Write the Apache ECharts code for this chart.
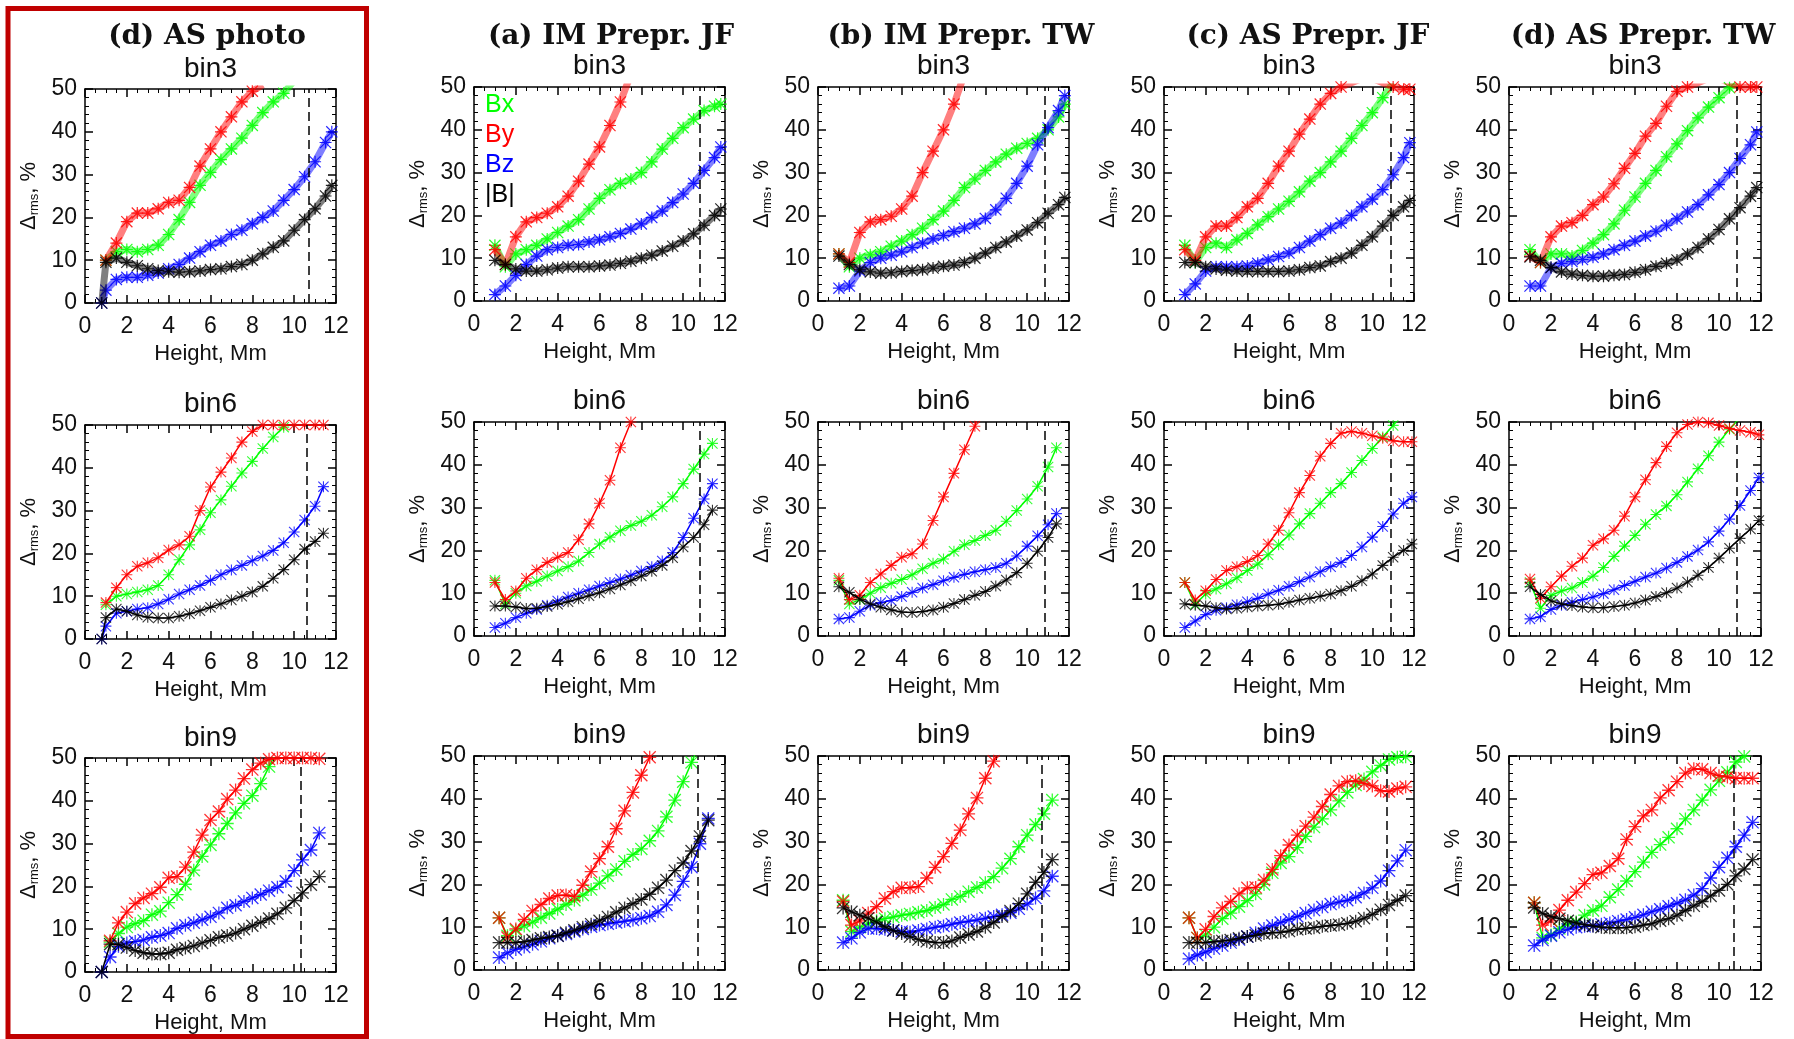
<!DOCTYPE html>
<html><head><meta charset="utf-8">
<script src="https://cdn.jsdelivr.net/npm/echarts/dist/echarts.min.js"></script>
<style>html,body{margin:0;padding:0;background:#fff}#c{width:1794px;height:1039px}</style>
</head><body><div id="c"></div><script>
// ---------- text ----------
const colTitles = ['(d) AS photo', '(a) IM Prepr. JF', '(b) IM Prepr. TW', '(c) AS Prepr. JF', '(d) AS Prepr. TW'];
const binTitles = ['bin3', 'bin6', 'bin9'];
const seriesNames = ['Bx', 'By', 'Bz', '|B|'];
const seriesColors = ['#00ff00', '#ff0000', '#0000ff', '#000000'];
const xAxisTitle = 'Height, Mm';
const yAxisTitle = 'Δ{s|rms}, %';

// ---------- heights (Mm) ----------
const H3 = [1,1.5,2,2.5,3,3.5,4,4.5,5,5.5,6,6.5,7,7.5,8,8.5,9,9.5,10,10.5,11,11.5,11.8];
const H3p = [0.8,1,1.5,2,2.5,3,3.5,4,4.5,5,5.5,6,6.5,7,7.5,8,8.5,9,9.5,10,10.5,11,11.5,11.8];
const H6a = [1,1.5,2,2.5,3,3.5,4,4.5,5,5.5,6,6.5,7,7.5,8,8.5,9,9.5,10,10.5,11,11.4];
const H6ap = [0.8,1,1.5,2,2.5,3,3.5,4,4.5,5,5.5,6,6.5,7,7.5,8,8.5,9,9.5,10,10.5,11,11.4];
const H6b = [1,1.5,2,2.5,3,3.5,4,4.5,5,5.5,6,6.5,7,7.5,8,8.5,9,9.5,10,10.5,11,11.5,11.9];
const H9a = [1.2,1.6,2,2.4,2.8,3.2,3.6,4,4.4,4.8,5.2,5.6,6,6.4,6.8,7.2,7.6,8,8.4,8.8,9.2,9.6,10,10.4,10.8,11.2];
const H9ap = [0.8,1.2,1.6,2,2.4,2.8,3.2,3.6,4,4.4,4.8,5.2,5.6,6,6.4,6.8,7.2,7.6,8,8.4,8.8,9.2,9.6,10,10.4,10.8,11.2];
const H9b = [1.2,1.6,2,2.4,2.8,3.2,3.6,4,4.4,4.8,5.2,5.6,6,6.4,6.8,7.2,7.6,8,8.4,8.8,9.2,9.6,10,10.4,10.8,11.2,11.6];

// ---------- dashed line heights ----------
const dashBin3 = [10.7, 10.8, 10.83, 10.86, 10.83];
const dashBin6 = [10.58, 10.8, 10.83, 10.86, 10.83];
const dashBin9 = [10.3, 10.68, 10.7, 10.7, 10.7];

// ---------- bin3 ----------
const photo3_Bx = [null,10,12,12.5,12,12.5,13.5,16,19.5,23.5,27.5,30.5,33.5,36,38.5,41.5,44.5,47,49,52,null,null,null,null];
const photo3_By = [null,10,14,19,21,21,22,23.5,24,27,32,36,40,43.5,47,49.5,51,null,null,null,null,null,null,null];
const photo3_Bz = [0,3,5.5,6,6,6.5,7,8,9,10.5,12,13.5,14.5,16,17,18.5,20,21.5,24,26.5,29.5,33,37.5,40];
const photo3_B  = [0,9.5,10.5,9.5,8.7,8,7.6,7.3,7.2,7.3,7.5,7.8,8,8.5,9,10,11.5,13,14.5,17,19.5,22,25,27.5];

const imJF3_Bx = [13,8,11,12,13,14.5,16,17.5,19,21.5,24,26,27.5,28.5,30,32.5,35.5,38,40.5,42.5,44.5,45.5,46];
const imJF3_By = [12,8.5,15,18.5,19.5,20.5,22,24.5,28,32,36,41,46.5,53,null,null,null,null,null,null,null,null,null];
const imJF3_Bz = [1.5,3.5,6,8.5,10.5,12,12.5,13,13.2,13.8,14.3,15,15.8,16.8,18,19.5,21,23,25,27.5,30.5,33.5,36];
const imJF3_B  = [9.5,8.5,7.5,7,7,7.3,7.7,8,8,8,8.2,8.4,8.8,9.3,10,10.7,11.7,12.8,14,15.7,17.7,20,21.5];

const imTW3_Bx = [11,8,10,10.8,11.5,12.8,14,15.5,17,19,21,23.5,26.5,28.5,30.5,32.5,34.3,35.7,36.8,38,40,43,46];
const imTW3_By = [11,9,16,18.5,19,19.8,21.5,24.5,30,35,40,46,53,null,null,null,null,null,null,null,null,null,null];
const imTW3_Bz = [3,3.5,7,9,10,10.7,11.5,12.5,13.5,14.5,15.3,16.2,17,18,19.3,21.3,24,27.5,31.5,36.5,40.5,44.5,48];
const imTW3_B  = [10.5,8.5,7.3,6.8,6.5,6.6,6.9,7.1,7.3,7.7,8.1,8.4,9,10,11.2,12.5,13.8,15.2,16.6,18.3,20.5,22.5,24.2];

const asJF3_Bx = [13,9,12.5,13.5,12.5,14.3,15.8,17.8,19.7,21.5,23.3,25.5,28,30,32.5,35,38,41,44,47.5,51,null,null];
const asJF3_By = [12,9.5,15,17.5,17.5,19.5,22,24,27.5,31.5,35,39,42.5,46,48.5,50,51,52,52,51,50,49.5,49.5];
const asJF3_Bz = [1.5,4,7,8,8,8,8.2,8.8,9.6,10.4,11.2,12.5,14,15.5,17,18.2,20,22,23.8,26,29.5,33.5,37];
const asJF3_B  = [9,9,8,7.5,7.2,7,6.9,6.9,6.9,6.9,7,7.3,7.8,8.2,9.2,10,11.2,13,15,17.5,20,22,23.5];

const asTW3_Bx = [12,9,11,11,10.5,11.8,13.5,15.5,18,21.2,24.3,27.5,30.5,33.7,36.7,39.8,42.8,45.3,47.5,49.8,52,null,null];
const asTW3_By = [10.5,9,15,17.5,18.3,20,22.5,24.3,27.4,31,34.5,38.5,41.5,45.5,49,50,51,52,52,51,50,50,50];
const asTW3_Bz = [3.5,3.5,7.8,8.8,9.2,9.7,10.2,11,12,13,14,15.2,16.3,17.7,19.2,20.8,22.5,24.8,27.2,30,33.3,36.5,39.5];
const asTW3_B  = [10.3,9.5,7.8,6.8,6.3,6,5.8,5.8,6,6.2,6.7,7.3,8.1,8.8,9.6,11,12.5,14.5,16.7,19.2,21.8,24.5,26.5];

// ---------- bin6 ----------
const photo6_Bx = [null,8,10,10.5,11,11.5,12.5,15,18.5,22,25.5,29.5,32.5,35.7,38.8,41.5,44.5,47.2,49.5,53,null,null,null];
const photo6_By = [null,8.5,12,15,17,17.8,19,20.8,22,24,30,35.5,39,42.3,46,48.5,50,50,50,50,50,50,50];
const photo6_Bz = [0,3,6,6.5,7,7.3,8.2,9.3,10.5,11.5,12.5,13.7,15,16.1,17.2,18.3,19.4,20.7,22.5,25,27.8,31,35.6];
const photo6_B  = [0,5,7,6.5,5.6,5.1,4.9,4.9,5.3,5.9,6.6,7.4,8.2,9.1,10,11,12.3,14.2,16.2,18.5,21,22.8,24.7];

const imJF6_Bx = [13,7.5,10,11.7,12.8,14,15.2,16.2,17.5,19.5,21.5,23.1,24.6,25.8,26.8,28.2,30.2,32.5,35.6,39,42.5,45];
const imJF6_By = [12.5,8.5,10.5,13.5,15.5,17.2,18.4,19.5,22.5,26.2,31,36.4,44,50,57,null,null,null,null,null,null,null];
const imJF6_Bz = [2,3,4.3,5.3,6.2,7.2,8.2,9.1,10,10.8,11.7,12.5,13.3,14.2,15.2,16.2,17.5,19.5,23,27.5,32,35.6];
const imJF6_B  = [7,7,6.8,6.4,6.5,6.9,7.4,8,8.7,9.4,10.1,11,11.9,12.9,14,15.1,16.5,18.3,20.8,23,26,29.4];

const imTW6_Bx = [13,7.5,8.5,10,11.3,12.3,13.2,14.3,15.7,17,18,19.8,21.3,22.3,23.5,24.7,26.8,29.3,32,35,39.5,44];
const imTW6_By = [13.5,8.5,9.5,12.5,14.5,16.5,18.4,19.2,21.5,27,32.5,38,43.5,49,56,null,null,null,null,null,null,null];
const imTW6_Bz = [4,4.3,5.8,7.2,7.8,8.3,9.2,10.2,11.2,12,12.9,13.7,14.4,15,15.5,16,17,18.7,21,23.4,26,28.6];
const imTW6_B  = [11.5,10.2,8.6,7.5,6.7,6.1,5.6,5.5,5.7,6.1,6.7,7.6,8.5,9.5,10.4,11.7,13.1,14.8,17,19.8,23,26.2];

const asJF6_Bx = [12.5,7.4,9.8,11,12.2,13.6,15.3,16.8,19,21.3,23.6,26.2,28.6,31,33.5,35.6,38.2,41,43.8,46.5,49.2,53,null];
const asJF6_By = [12.5,8.4,10.6,13.2,15.3,16.2,17.4,18.8,21.5,24.7,28.8,33.5,37.5,42,45,47.4,47.8,47.4,46.8,46.2,45.6,45.4,45.4];
const asJF6_Bz = [2,3.5,5,6,6.6,7.3,8,8.8,9.8,10.7,11.6,12.7,13.8,15,16.2,17.2,18.8,20.8,23.1,25.6,28.5,31,32.5];
const asJF6_B  = [7.5,7.2,7,6.6,6.3,6.5,6.8,7,7.2,7.4,7.9,8.4,8.8,9.3,9.8,10.6,11.6,12.9,14.5,16.5,18.4,20,21.5];

const asTW6_Bx = [12.5,6.5,9.5,10.5,11.2,12.5,14,16,18.6,21,23.5,26.1,28.4,30.4,33,36,39.1,42.1,45.3,48.3,51,null,null];
const asTW6_By = [13.3,8.8,11.5,14,16.3,18.2,21.2,22.7,24.7,28,32.5,36.5,40.5,44.3,47.5,49.4,50,49.8,49.2,48.5,48,47.6,47];
const asTW6_Bz = [4,4.5,6.2,7.2,7.9,8.5,9.1,9.9,10.8,11.8,12.8,13.8,14.7,15.9,17.2,18.6,20.1,22,24.5,27.3,30.5,34,37];
const asTW6_B  = [11.5,9.7,8.2,7.5,7.1,6.8,6.6,6.6,6.9,7.2,7.7,8.4,9.2,10.1,11.2,12.6,14.2,16,18.2,20.5,22.8,25,27];

// ---------- bin9 ----------
const photo9_Bx = [null,7,9,10.5,11.3,12,13.4,14.2,16.2,18.1,20.5,23.8,27,29.7,32.3,34.7,37.2,39.4,41.2,44,48,52,null,null,null,null,null];
const photo9_By = [null,7.3,11.5,14,16,17.3,18.3,19.8,22,22.3,24.5,28,32,35.5,37.5,40.4,42.5,45.2,47.3,48.8,49.7,50,50,50,50,50,49.8];
const photo9_Bz = [0,3.5,6,6.8,7.1,7.5,8.1,8.5,9.1,10.2,10.9,11.5,12.2,12.9,13.8,15,15.6,16.5,17.3,18.1,19,19.8,21.2,23.7,26.2,28.5,32.5];
const photo9_B  = [0,6.5,6.5,5.7,5,4.5,4.2,4.2,4.5,5.2,5.6,6.1,6.8,7.4,8.1,8.5,9.1,10,10.8,11.6,12.5,13.6,15,16.7,18.5,20.4,22.3];

const imJF9_Bx = [12.2,8,9.3,10.3,11.2,12.2,13.2,14.2,15.3,16.3,17.5,18.8,20.3,22,23.5,25.4,27,28.3,30.2,32.5,35.8,39.7,44,48.5,53,null];
const imJF9_By = [12.2,7.6,9.6,11.8,13.8,15.3,16.7,17.4,17.5,17.2,19.8,23,26,28.8,33,37.2,41.5,45.5,49.7,54,null,null,null,null,null,null];
const imJF9_Bz = [2.9,4,4.8,5.4,6,6.7,7.4,8,8.4,9,9.6,10.1,10.5,10.8,11.1,11.4,11.7,12.1,12.6,13.6,15.2,17.5,20.7,24,29.5,35.4];
const imJF9_B  = [6.4,6.4,6.4,6.6,7,7.4,7.7,8,8.7,9.3,10,10.7,11.5,12.4,13.5,14.5,15.5,16.5,17.7,19.2,21,23.2,25,27.8,31.2,35];

const imTW9_Bx = [16.3,9,10,10.8,11.5,12,12.4,12.8,13.1,13.5,13.9,14.6,15.3,16.5,17.2,18.3,19.3,20.4,21.8,23.8,26,28.8,31.5,34,36.5,39.7];
const imTW9_By = [16,10.5,11.5,13.3,14.8,16.7,18.3,19.2,19.2,19.5,21.5,24,26.5,29.6,32.7,36.5,40.2,44.8,48.8,53,null,null,null,null,null,null];
const imTW9_Bz = [6.4,7.4,8.8,9.7,9.7,9.5,9.3,9,8.8,9.2,9.6,10,10.3,10.7,11.1,11.4,11.7,12.1,12.5,12.9,13.4,14.3,15.4,16.8,18.5,21.9];
const imTW9_B  = [14.5,13.6,12.8,12.1,11.2,10.1,9.2,8.5,7.8,7.1,6.7,6.4,6.4,6.8,7.6,8.3,9,10,11.1,12.5,13.8,15.5,17.8,20.5,22.8,25.8];

const asJF9_Bx = [12.2,7.5,8.2,10,12,13.3,14.8,16.2,17.8,20,22.7,25,26.5,28.6,31.2,33.4,35.3,37.4,39.5,41.5,43.2,44.6,46.3,47.8,49.2,49.7,49.8];
const asJF9_By = [12.2,7.5,9.5,12.5,14.5,16,17.8,19.2,19.3,21,23.5,26.7,29.2,31.5,33.6,35.7,38.2,41,43,44,44.2,43.6,43,41.9,41.7,42.4,42.8];
const asJF9_Bz = [2.6,3.5,4.2,5,5.7,6.4,7.1,7.8,8.7,9.7,10.4,11.1,11.8,12.5,13.3,14,14.7,15.4,15.9,16.3,17,18,19.2,20.8,23.2,25.5,28];
const asJF9_B  = [6.4,6.4,6.4,6.6,6.8,7,7.4,7.8,8.1,8.5,8.7,8.8,9.1,9.5,9.7,9.9,10.2,10.4,10.6,10.9,11.4,12.1,13,14.1,15.2,16.3,17.4];

const asTW9_Bx = [15.7,7.5,8.2,9.7,10.7,11.2,12.8,13.9,15,17,18.8,20.8,23,25.2,27.5,29.3,31,33,35.3,37.4,39.7,42.1,44.2,46.2,48.6,49.9,51];
const asTW9_By = [15.7,10.5,11.5,14,16.3,18.2,20.2,22.3,22.7,24.3,26,30.5,33.5,36,37.4,40.2,42,44,46,47,46.9,46,45.4,45.1,44.8,44.8,44.8];
const asTW9_Bz = [5.7,7,8,8.8,9.5,10,10.2,10.3,10.7,11,11.4,11.8,12.3,12.9,13.6,14.2,14.9,15.6,16.4,17.5,19,21.5,24,26.2,28.8,31.5,34.5];
const asTW9_B  = [14.6,13.2,12.5,12,11.5,11,10.6,10.3,10,9.9,9.9,9.9,10.1,10.5,10.8,11.5,12,12.8,13.9,15,16,17.3,18.6,20,22,23.6,25.8];

// ---------- panel table (row, col) built from the arrays ----------
const panels = [
  [0,0,H3p,[photo3_Bx,photo3_By,photo3_Bz,photo3_B],dashBin3[0]],
  [0,1,H3,[imJF3_Bx,imJF3_By,imJF3_Bz,imJF3_B],dashBin3[1]],
  [0,2,H3,[imTW3_Bx,imTW3_By,imTW3_Bz,imTW3_B],dashBin3[2]],
  [0,3,H3,[asJF3_Bx,asJF3_By,asJF3_Bz,asJF3_B],dashBin3[3]],
  [0,4,H3,[asTW3_Bx,asTW3_By,asTW3_Bz,asTW3_B],dashBin3[4]],
  [1,0,H6ap,[photo6_Bx,photo6_By,photo6_Bz,photo6_B],dashBin6[0]],
  [1,1,H6a,[imJF6_Bx,imJF6_By,imJF6_Bz,imJF6_B],dashBin6[1]],
  [1,2,H6a,[imTW6_Bx,imTW6_By,imTW6_Bz,imTW6_B],dashBin6[2]],
  [1,3,H6b,[asJF6_Bx,asJF6_By,asJF6_Bz,asJF6_B],dashBin6[3]],
  [1,4,H6b,[asTW6_Bx,asTW6_By,asTW6_Bz,asTW6_B],dashBin6[4]],
  [2,0,H9ap,[photo9_Bx,photo9_By,photo9_Bz,photo9_B],dashBin9[0]],
  [2,1,H9a,[imJF9_Bx,imJF9_By,imJF9_Bz,imJF9_B],dashBin9[1]],
  [2,2,H9a,[imTW9_Bx,imTW9_By,imTW9_Bz,imTW9_B],dashBin9[2]],
  [2,3,H9b,[asJF9_Bx,asJF9_By,asJF9_Bz,asJF9_B],dashBin9[3]],
  [2,4,H9b,[asTW9_Bx,asTW9_By,asTW9_Bz,asTW9_B],dashBin9[4]]
];

// ---------- layout ----------
const colLeft = [85, 474, 818, 1164, 1509];
const colWidth = [251, 251, 251, 250, 252];
const rowTop = [87, 422, 756];
const col0Shift = [2, 3, 2];
const boxH = 214;
const colTitleX = [207, 611, 961, 1308, 1643];
const binTitleY = [66, 401, 735];
const rowStyle = [
  {lw: 7, lop: 0.5, sym: 12, sop: 0.85},
  {lw: 1.5, lop: 1, sym: 11, sop: 0.8},
  {lw: 1.5, lop: 1, sym: 13, sop: 0.8}
];
const STAR = 'path://M45,0L55,0L55,100L45,100Z M0,45L100,45L100,55L0,55Z M7,0L100,93L93,100L0,7Z M93,0L100,7L7,100L0,93Z';
const SANS = '"Liberation Sans", Arial, sans-serif';
const SERIF = '"DejaVu Serif", serif';

const grids = [], xAxes = [], yAxes = [], series = [], graphics = [];
const lineSt = {color: '#000', width: 1.5};

panels.forEach((p, i) => {
  const [r, c, hs, vals, dash] = p;
  const top = rowTop[r] + (c === 0 ? col0Shift[r] : 0);
  grids.push({left: colLeft[c], top: top, width: colWidth[c], height: boxH, containLabel: false});
  const common = {gridIndex: i, type: 'value', splitLine: {show: false},
    axisLine: {show: true, onZero: false, lineStyle: lineSt}};
  xAxes.push(Object.assign({}, common, {
    position: 'bottom', min: 0, max: 12, interval: 2,
    axisTick: {inside: true, length: 8, lineStyle: lineSt},
    minorTick: {show: true, splitNumber: 4, length: 4, lineStyle: {color: '#000', width: 1}},
    axisLabel: {fontSize: 23, color: '#111', margin: 12, fontFamily: SANS},
    name: xAxisTitle, nameLocation: 'middle', nameGap: 40,
    nameTextStyle: {fontSize: 22, color: '#111', fontFamily: SANS}
  }));
  xAxes.push(Object.assign({}, common, {
    position: 'top', min: 0, max: 12, interval: 2,
    axisTick: {inside: true, length: 8, lineStyle: lineSt},
    minorTick: {show: true, splitNumber: 4, length: 4, lineStyle: {color: '#000', width: 1}},
    axisLabel: {show: false}
  }));
  yAxes.push(Object.assign({}, common, {
    position: 'left', min: 0, max: 50, interval: 10,
    axisTick: {inside: true, length: 8, lineStyle: lineSt},
    minorTick: {show: true, splitNumber: 5, length: 4, lineStyle: {color: '#000', width: 1}},
    axisLabel: {fontSize: 23, color: '#111', margin: 8, fontFamily: SANS},
    name: yAxisTitle, nameLocation: 'middle', nameGap: 44, nameRotate: 90,
    nameTextStyle: {fontSize: 22, color: '#111', fontFamily: SANS,
      rich: {s: {fontSize: 13, color: '#111', fontFamily: SANS, verticalAlign: 'bottom', padding: [12, 0, 0, 0]}}}
  }));
  yAxes.push(Object.assign({}, common, {
    position: 'right', min: 0, max: 50, interval: 10,
    axisTick: {inside: true, length: 8, lineStyle: lineSt},
    minorTick: {show: true, splitNumber: 5, length: 4, lineStyle: {color: '#000', width: 1}},
    axisLabel: {show: false}
  }));
  const st = rowStyle[r];
  vals.forEach((arr, k) => {
    const s = {
      type: 'line', name: seriesNames[k], xAxisIndex: 2 * i, yAxisIndex: 2 * i,
      data: hs.map((h, j) => [h, arr[j] == null ? '-' : arr[j]]),
      connectNulls: false, clip: true, animation: false, silent: true,
      symbol: STAR, symbolSize: st.sym, showSymbol: true,
      itemStyle: {color: seriesColors[k], opacity: st.sop, borderWidth: 0},
      lineStyle: {color: seriesColors[k], width: st.lw, opacity: st.lop},
      z: 2 + k
    };
    if (k === 3) {
      s.markLine = {silent: true, symbol: 'none', animation: false,
        label: {show: false},
        lineStyle: {type: [9, 5], color: '#000', width: 1.5, opacity: 1},
        data: [{xAxis: dash}]};
    }
    series.push(s);
  });
  graphics.push({type: 'text', x: colLeft[c] + colWidth[c] / 2, y: binTitleY[r] + (c === 0 ? 3 : 0),
    style: {text: binTitles[r], font: '28px ' + SANS, fill: '#111', align: 'center', verticalAlign: 'middle'}});
});

colTitles.forEach((t, c) => {
  graphics.push({type: 'text', x: colTitleX[c], y: 37,
    style: {text: t, font: 'bold 28px ' + SERIF, fill: '#111', align: 'center', verticalAlign: 'middle'}});
});

// legend labels inside the (a) bin3 panel
seriesNames.forEach((n, k) => {
  graphics.push({type: 'text', x: colLeft[1] + 11, y: 105 + k * 30,
    style: {text: n, font: '25px ' + SANS, fill: seriesColors[k], align: 'left', verticalAlign: 'middle'}});
});

// red frame round the first column
graphics.push({type: 'rect', shape: {x: 8, y: 8.5, width: 358.5, height: 1028},
  style: {fill: null, stroke: '#c00000', lineWidth: 5}, z: 100});

const chart = echarts.init(document.getElementById('c'), null, {renderer: 'canvas'});
chart.setOption({
  backgroundColor: '#fff',
  animation: false,
  grid: grids, xAxis: xAxes, yAxis: yAxes, series: series,
  graphic: graphics
});
</script></body></html>
